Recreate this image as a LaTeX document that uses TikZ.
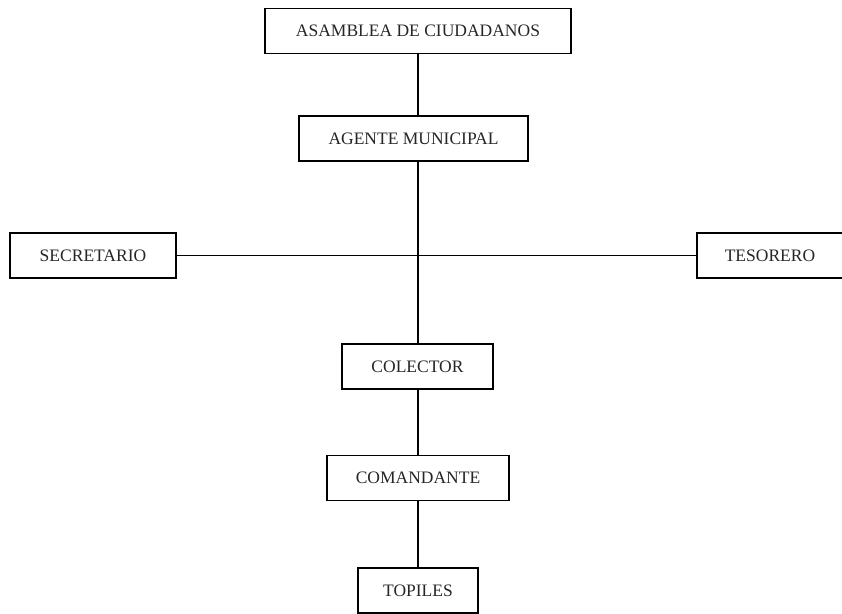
\documentclass[tikz,border=0pt]{standalone}
\usepackage{fontspec}
\setmainfont{Liberation Serif}
\begin{document}
\begin{tikzpicture}[x=1pt,y=-1pt,
  box/.style={draw, line width=1.2pt, inner sep=0pt, minimum height=45pt, font=\fontsize{17.5}{20}\selectfont, text=black!85},
  link/.style={line width=1.2pt}]
\useasboundingbox (0,0) rectangle (842,613);
\node[box, minimum width=306pt] (asam) at (418,31) {ASAMBLEA DE CIUDADANOS};
\node[box, minimum width=229pt] (agente) at (413.5,138.5) {AGENTE MUNICIPAL};
\node[box, minimum width=166pt] (sec) at (93,255.5) {SECRETARIO};
\node[box, minimum width=146pt] (tes) at (770,255.5) {TESORERO};
\node[box, minimum width=151pt] (col) at (417.5,366.5) {COLECTOR};
\node[box, minimum width=182pt] (com) at (418,478) {COMANDANTE};
\node[box, minimum width=120pt] (top) at (418,590.5) {TOPILES};
\coordinate (j) at (418,255.5);
\draw[link] (asam.south) -- (asam.south |- agente.north);
\draw[link] (j |- agente.south) -- (j |- col.north);
\draw[link] (sec.east) -- (tes.west);
\draw[link] (col.south -| j) -- (com.north -| j);
\draw[link] (com.south -| j) -- (top.north -| j);
\end{tikzpicture}
\end{document}
